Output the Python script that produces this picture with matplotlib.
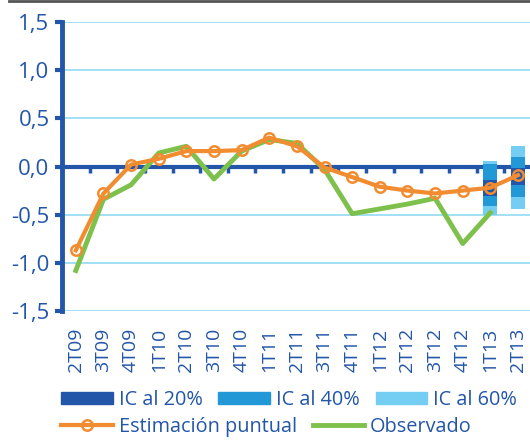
import matplotlib.pyplot as plt
from matplotlib.lines import Line2D
from matplotlib.patches import Patch
import numpy as np

plt.rcParams['font.family'] = ['Open Sans', 'DejaVu Sans']

# datos
trimestres = ['2T09', '3T09', '4T09', '1T10', '2T10', '3T10', '4T10', '1T11', '2T11',
              '3T11', '4T11', '1T12', '2T12', '3T12', '4T12', '1T13', '2T13']
estimacion = [-0.87, -0.28, 0.02, 0.08, 0.16, 0.16, 0.17, 0.30, 0.21,
              -0.01, -0.11, -0.21, -0.25, -0.28, -0.25, -0.22, -0.09]
observado = [-1.08, -0.34, -0.19, 0.14, 0.21, -0.13, 0.16, 0.28, 0.24,
             -0.03, -0.49, -0.44, -0.39, -0.33, -0.80, -0.48]

# intervalos de confianza (1T13, 2T13)
ic_trim = ['1T13', '2T13']
ic20_lo = [-0.31, -0.19]
ic20_hi = [-0.14, -0.02]
ic40_lo = [-0.41, -0.32]
ic40_hi = [0.03, 0.10]
ic60_lo = [-0.50, -0.44]
ic60_hi = [0.06, 0.21]

azul = '#2356a8'
azul_medio = '#2398d6'
azul_claro = '#74cdf2'
naranja = '#f28c30'
verde = '#7dc04b'
rejilla = '#9adcf5'

x = np.arange(len(trimestres))
xi = [trimestres.index(t) for t in ic_trim]

fig = plt.figure(figsize=(5.3, 4.48), dpi=100)
ax = fig.add_axes([62 / 530, 1 - 311 / 448, (531.8 - 62) / 530, (311 - 22) / 448])

# eje cero con marcas entre trimestres
ax.axhline(0, color=azul, lw=3, zorder=2)
ax.vlines(x[:-1] + 0.5, -0.065, 0, color=azul, lw=2.5, zorder=2)

for lo, hi, c in [(ic60_lo, ic60_hi, azul_claro), (ic40_lo, ic40_hi, azul_medio), (ic20_lo, ic20_hi, azul)]:
    ax.bar(xi, np.array(hi) - np.array(lo), bottom=lo, width=0.5, color=c, zorder=3)

ax.set_ylim(-1.5, 1.5)
ax.set_xlim(-0.5, len(trimestres) - 0.5)
ax.set_yticks(np.arange(-1.5, 1.51, 0.5))
ax.set_yticklabels([f'{v:.1f}'.replace('.', ',') for v in np.arange(-1.5, 1.51, 0.5)])
ax.grid(axis='y', color=rejilla, lw=1.3, zorder=0)
ax.set_axisbelow(True)

ax.plot(x[:len(observado)], observado, color=verde, lw=3.5, zorder=4)
ax.plot(x, estimacion, color=naranja, lw=3, marker='o', ms=7.5, mfc='none', mew=1.8, zorder=5)

ax.set_xticks(x)
ax.set_xticklabels(trimestres, rotation=90, color=azul, fontsize=14)
ax.tick_params(axis='x', length=0, pad=12)
ax.tick_params(axis='y', direction='out', length=5, width=3, color=azul, labelcolor=azul, labelsize=16, pad=4)
for s in ['top', 'right', 'bottom']:
    ax.spines[s].set_visible(False)
ax.spines['left'].set_color(azul)
ax.spines['left'].set_linewidth(3.5)
ax.spines['left'].set_zorder(6)

fig.add_artist(Line2D([9 / 530, 1], [1 - 1 / 448, 1 - 1 / 448], color='#555555', lw=2))

h1 = [Patch(color=azul), Patch(color=azul_medio), Patch(color=azul_claro)]
fig.legend(h1, ['IC al 20%', 'IC al 40%', 'IC al 60%'], ncol=3, frameon=False,
           loc='center left', bbox_to_anchor=(61 / 530, 1 - 400 / 448), fontsize=14.3,
           handlelength=2.6, handleheight=0.6, handletextpad=0.3, columnspacing=0.8,
           borderpad=0, borderaxespad=0, labelcolor=azul)
h2 = [Line2D([], [], color=naranja, lw=3, marker='o', ms=7.5, mfc='none', mew=1.8),
      Line2D([], [], color=verde, lw=3.5)]
fig.legend(h2, ['Estimación puntual', 'Observado'], ncol=2, frameon=False,
           loc='center left', bbox_to_anchor=(61 / 530, 1 - 427 / 448), fontsize=14.3,
           handlelength=2.6, handletextpad=0.3, columnspacing=0.8,
           borderpad=0, borderaxespad=0, labelcolor=azul)

fig.savefig('out.png', dpi=100)
